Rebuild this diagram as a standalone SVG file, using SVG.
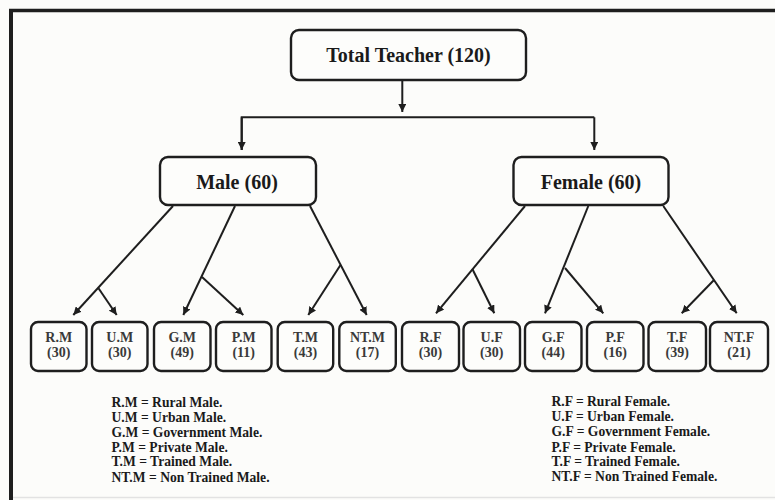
<svg xmlns="http://www.w3.org/2000/svg" width="775" height="500" viewBox="0 0 775 500">
<defs>
<marker id="ah" viewBox="0 0 10 10" refX="10" refY="5" markerWidth="8" markerHeight="8" markerUnits="userSpaceOnUse" orient="auto">
<path d="M0,0 L10,5 L0,10 z" fill="#1e1e1e"/>
</marker>
<style>
.box{fill:#fdfdfb;stroke:#1e1e1e;stroke-width:2.4}
.big{font-family:"Liberation Serif","Times New Roman",serif;font-weight:bold;font-size:20px;fill:#1a1a1a;text-anchor:middle}
.leaf{font-family:"Liberation Serif","Times New Roman",serif;font-weight:bold;font-size:14px;fill:#3a3a3a;text-anchor:middle}
.leg{font-family:"Liberation Serif","Times New Roman",serif;font-weight:bold;font-size:13.6px;fill:#1a1a1a}
.c{fill:none;stroke:#1e1e1e;stroke-width:2}
.a{fill:none;stroke:#1e1e1e;stroke-width:2;marker-end:url(#ah)}
</style>
</defs>
<rect x="0" y="0" width="775" height="500" fill="#fcfcfa"/>
<line x1="9" y1="10.5" x2="775" y2="10.5" stroke="#1e1e1e" stroke-width="3.5"/>
<line x1="11" y1="9" x2="11" y2="500" stroke="#1e1e1e" stroke-width="4"/>
<line x1="13" y1="497.5" x2="775" y2="497.5" stroke="#e2e2e2" stroke-width="1.5"/>

<g id="connectors">
<line class="a" x1="402.3" y1="80" x2="402.3" y2="112"/>
<polyline class="c" points="241.7,150 241.7,117.3 594.3,117.3"/>
<line class="a" x1="241.7" y1="117.3" x2="241.7" y2="150"/>
<line class="a" x1="594.3" y1="117.3" x2="594.3" y2="150"/>

<line class="a" x1="173" y1="206" x2="73.3" y2="315"/>
<line class="a" x1="98.5" y1="288.3" x2="116.7" y2="315"/>
<line class="a" x1="235" y1="206" x2="183.3" y2="315"/>
<line class="a" x1="202" y1="277" x2="243.3" y2="315"/>
<line class="a" x1="310" y1="206" x2="366.7" y2="315"/>
<line class="a" x1="340.5" y1="265" x2="308.3" y2="315"/>

<line class="a" x1="525" y1="206" x2="436" y2="313.3"/>
<line class="a" x1="472.5" y1="269.3" x2="494.3" y2="313.3"/>
<line class="a" x1="588.3" y1="206" x2="545" y2="313.3"/>
<line class="a" x1="565" y1="268" x2="603.3" y2="313.3"/>
<line class="a" x1="663.3" y1="206" x2="736.7" y2="313.3"/>
<line class="a" x1="714" y1="280" x2="681.7" y2="313.3"/>
</g>

<g id="total">
<rect class="box" x="291" y="30" width="235" height="50" rx="8"/>
<text class="big" x="408.5" y="61.5">Total Teacher (120)</text>
</g>
<g id="male">
<rect class="box" x="160" y="157" width="156" height="48" rx="8"/>
<text class="big" x="237" y="188.5">Male (60)</text>
</g>
<g id="female">
<rect class="box" x="513.5" y="157" width="155" height="48" rx="8"/>
<text class="big" x="591" y="188.5">Female (60)</text>
</g>

<g id="rm"><rect class="box" x="31" y="322" width="55.5" height="49" rx="7"/><text class="leaf" x="58.7" y="342">R.M</text><text class="leaf" x="58.7" y="356.5">(30)</text></g>
<g id="um"><rect class="box" x="92" y="322" width="55.5" height="49" rx="7"/><text class="leaf" x="119.7" y="342">U.M</text><text class="leaf" x="119.7" y="356.5">(30)</text></g>
<g id="gm"><rect class="box" x="154" y="322" width="56.5" height="49" rx="7"/><text class="leaf" x="182.2" y="342">G.M</text><text class="leaf" x="182.2" y="356.5">(49)</text></g>
<g id="pm"><rect class="box" x="216" y="322" width="55.5" height="49" rx="7"/><text class="leaf" x="243.7" y="342">P.M</text><text class="leaf" x="243.7" y="356.5">(11)</text></g>
<g id="tm"><rect class="box" x="277.7" y="322" width="55.5" height="49" rx="7"/><text class="leaf" x="305.5" y="342">T.M</text><text class="leaf" x="305.5" y="356.5">(43)</text></g>
<g id="ntm"><rect class="box" x="339.3" y="322" width="56.5" height="49" rx="7"/><text class="leaf" x="367.5" y="342">NT.M</text><text class="leaf" x="367.5" y="356.5">(17)</text></g>

<g id="rf"><rect class="box" x="402" y="322" width="57" height="49" rx="7"/><text class="leaf" x="430.5" y="342">R.F</text><text class="leaf" x="430.5" y="356.5">(30)</text></g>
<g id="uf"><rect class="box" x="463.5" y="322" width="56.5" height="49" rx="7"/><text class="leaf" x="491.7" y="342">U.F</text><text class="leaf" x="491.7" y="356.5">(30)</text></g>
<g id="gf"><rect class="box" x="525" y="322" width="56.5" height="49" rx="7"/><text class="leaf" x="553.2" y="342">G.F</text><text class="leaf" x="553.2" y="356.5">(44)</text></g>
<g id="pf"><rect class="box" x="587" y="322" width="56.5" height="49" rx="7"/><text class="leaf" x="615.2" y="342">P.F</text><text class="leaf" x="615.2" y="356.5">(16)</text></g>
<g id="tf"><rect class="box" x="648.5" y="322" width="57.5" height="49" rx="7"/><text class="leaf" x="677.2" y="342">T.F</text><text class="leaf" x="677.2" y="356.5">(39)</text></g>
<g id="ntf"><rect class="box" x="710" y="322" width="58" height="49" rx="7"/><text class="leaf" x="739" y="342">NT.F</text><text class="leaf" x="739" y="356.5">(21)</text></g>

<g id="legend-male">
<text class="leg" x="111.5" y="407">R.M = Rural Male.</text>
<text class="leg" x="111.5" y="421.5">U.M = Urban Male.</text>
<text class="leg" x="111.5" y="436.5">G.M = Government Male.</text>
<text class="leg" x="111.5" y="451.5">P.M = Private Male.</text>
<text class="leg" x="111.5" y="466">T.M = Trained Male.</text>
<text class="leg" x="111.5" y="481.5">NT.M = Non Trained Male.</text>
</g>
<g id="legend-female">
<text class="leg" x="551.5" y="406">R.F = Rural Female.</text>
<text class="leg" x="551.5" y="420.5">U.F = Urban Female.</text>
<text class="leg" x="551.5" y="436">G.F = Government Female.</text>
<text class="leg" x="551.5" y="451.5">P.F = Private Female.</text>
<text class="leg" x="551.5" y="466">T.F = Trained Female.</text>
<text class="leg" x="551.5" y="481">NT.F = Non Trained Female.</text>
</g>
</svg>
